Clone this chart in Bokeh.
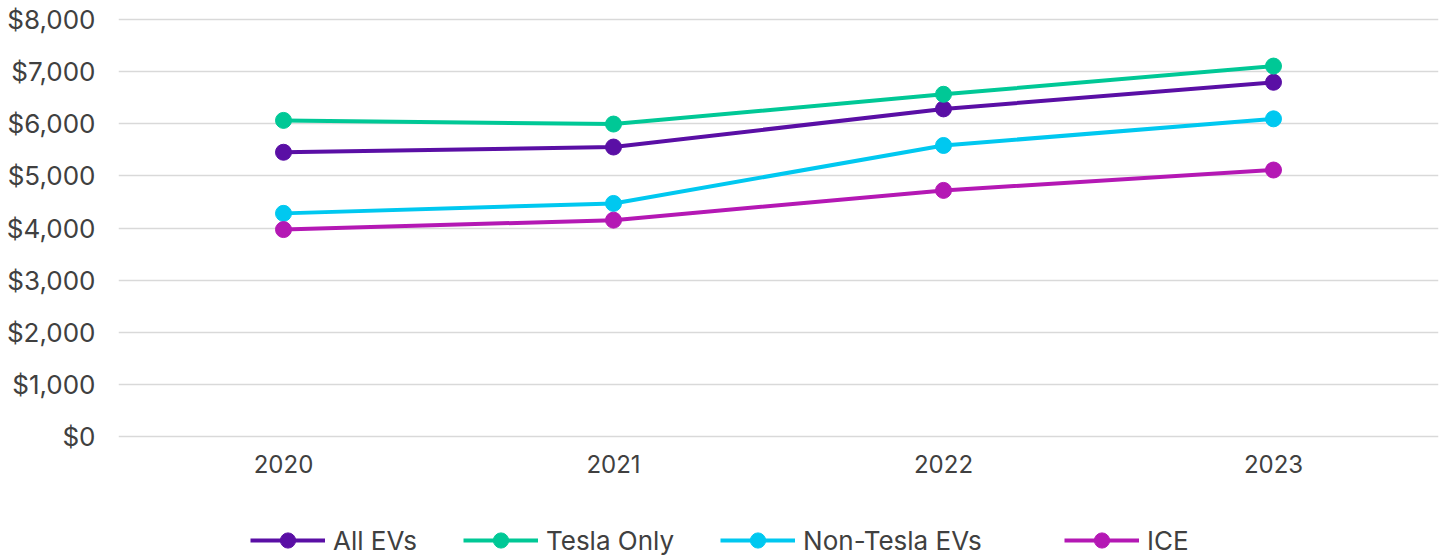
from bokeh.plotting import figure
from bokeh.layouts import column
from bokeh.models import Legend, LegendItem, NumeralTickFormatter, Range1d, FactorRange, ColumnDataSource
from bokeh.embed import file_html
from bokeh.resources import INLINE

years = ["2020", "2021", "2022", "2023"]
all_evs = [5450, 5550, 6280, 6790]
tesla_only = [6060, 5990, 6560, 7100]
non_tesla = [4280, 4470, 5580, 6090]
ice = [3970, 4150, 4720, 5110]
y_ticks = [0, 1000, 2000, 3000, 4000, 5000, 6000, 7000, 8000]

series = [
    ("All EVs", all_evs, "#5A0FA5"),
    ("Tesla Only", tesla_only, "#00C896"),
    ("Non-Tesla EVs", non_tesla, "#00C8F0"),
    ("ICE", ice, "#B418B4"),
]

FONT = "Inter"
TXT = "#404040"

p = figure(
    x_range=FactorRange(*years, range_padding=0),
    y_range=Range1d(-30, 8030),
    width=1440, height=515,
    output_backend="svg", toolbar_location=None,
    min_border_left=118, min_border_right=2, min_border_top=17, min_border_bottom=77,
)
p.outline_line_color = None

for name, vals, color in series:
    p.line(years, vals, line_color=color, line_width=4)
    p.scatter(years, vals, size=16, fill_color=color, line_color=color)

p.yaxis.ticker = y_ticks
p.yaxis.formatter = NumeralTickFormatter(format="$0,0")
for ax in (p.xaxis[0], p.yaxis[0]):
    ax.axis_line_color = None
    ax.major_tick_line_color = None
    ax.minor_tick_line_color = None
    ax.major_label_text_font = FONT
    ax.major_label_text_color = TXT
p.yaxis.major_label_text_font_size = "26px"
p.xaxis.major_label_text_font_size = "24px"
p.yaxis.major_label_standoff = 17
p.xaxis.major_label_standoff = 10

p.xgrid.grid_line_color = None
p.ygrid.grid_line_color = "#D9D9D9"
p.ygrid.grid_line_width = 1.5

# legend strip below the chart (its frame is aligned with the chart frame)
lg = figure(
    width=1440, height=44, x_range=Range1d(0, 1), y_range=Range1d(0, 1),
    output_backend="svg", toolbar_location=None,
    min_border_left=118, min_border_right=2, min_border_top=0, min_border_bottom=0,
)
lg.axis.visible = False
lg.grid.grid_line_color = None
lg.outline_line_color = None

items = []
offscreen = ColumnDataSource(data=dict(x=[-5, -4], y=[-5, -4]))
for name, vals, color in series:
    l = lg.line("x", "y", source=offscreen, line_color=color, line_width=4)
    s = lg.scatter("x", "y", source=offscreen, size=16, fill_color=color, line_color=color)
    items.append(LegendItem(label=name, renderers=[l, s]))

common = dict(
    orientation="horizontal",
    label_text_font=FONT, label_text_font_size="26px", label_text_color=TXT,
    glyph_width=75, glyph_height=38, label_standoff=8, spacing=46,
    border_line_color=None, background_fill_alpha=0, padding=0, margin=0,
)
lg.add_layout(Legend(items=items[:3], location=(132, 0), **common), "center")
lg.add_layout(Legend(items=items[3:], location=(946, 0), **common), "center")

layout = column(p, lg, spacing=0)
open("out.html", "w").write(file_html(layout, INLINE))
